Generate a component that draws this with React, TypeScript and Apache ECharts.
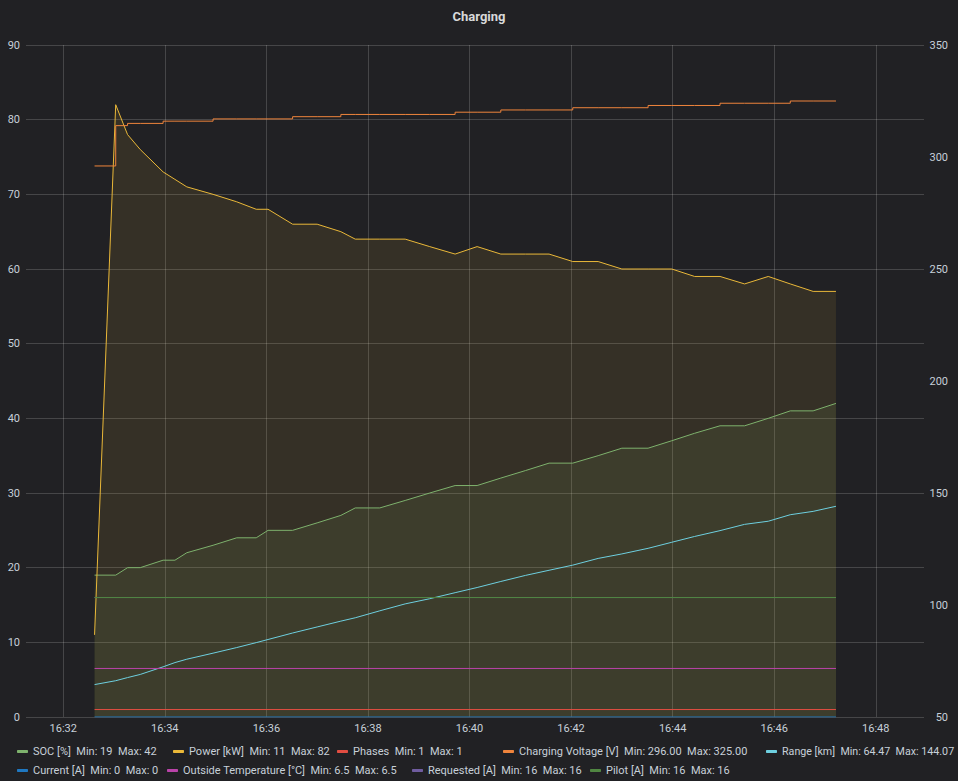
import React, { useEffect, useRef } from "react";
import * as echarts from "echarts";

// Sample times (HH:MM:SS) for the sampled series
const sampleTimes = [
  "16:32:37", "16:33:02", "16:33:16", "16:33:31", "16:33:58", "16:34:12", "16:34:26",
  "16:34:57", "16:35:25", "16:35:48", "16:36:02", "16:36:31", "16:37:00", "16:37:28",
  "16:37:45", "16:38:14", "16:38:44", "16:39:13", "16:39:43", "16:40:09", "16:40:37",
  "16:41:06", "16:41:34", "16:42:02", "16:42:32", "16:43:00", "16:43:31", "16:43:59",
  "16:44:26", "16:44:56", "16:45:25", "16:45:53", "16:46:19", "16:46:46", "16:47:13",
];

const socValues = [
  19, 19, 20, 20, 21, 21, 22, 23, 24, 24, 25, 25, 26, 27, 28, 28, 29, 30, 31, 31, 32,
  33, 34, 34, 35, 36, 36, 37, 38, 39, 39, 40, 41, 41, 42,
];

const powerValues = [
  11, 82, 78, 76, 73, 72, 71, 70, 69, 68, 68, 66, 66, 65, 64, 64, 64, 63, 62, 63, 62,
  62, 62, 61, 61, 60, 60, 60, 59, 59, 58, 59, 58, 57, 57,
];

const voltageValues = [
  296, 314, 315, 315, 316, 316, 316, 317, 317, 317, 317, 318, 318, 319, 319, 319, 319,
  319, 320, 320, 321, 321, 321, 322, 322, 322, 323, 323, 323, 324, 324, 324, 325, 325, 325,
];

const rangeValues = [
  64.47, 66.2, 67.6, 69.0, 72.4, 74.3, 75.8, 78.5, 81.0, 83.2, 84.6, 87.5, 90.2, 92.8,
  94.3, 97.4, 100.5, 102.8, 105.5, 107.8, 110.5, 113.2, 115.5, 117.8, 120.8, 122.8,
  125.3, 128.0, 130.6, 133.2, 136.0, 137.4, 140.3, 141.8, 144.07,
];

// Constant series: first and last sample
const flatTimes = ["16:32:37", "16:47:13"];
const phasesValues = [1, 1];
const currentValues = [0, 0];
const outsideTempValues = [6.5, 6.5];
const requestedValues = [16, 16];
const pilotValues = [16, 16];

// Axis settings
const xMinTime = "16:31:16";
const xMaxTime = "16:48:57";
const xTickLabels = ["16:32", "16:34", "16:36", "16:38", "16:40", "16:42", "16:44", "16:46", "16:48"];
const leftTicks = { min: 0, max: 90, interval: 10 };
const rightTicks = { min: 50, max: 350, interval: 50 };

function ts(hms: string): number {
  const parts = hms.split(":").map(Number);
  return new Date(2021, 0, 1, parts[0], parts[1], parts[2] || 0).getTime();
}

function pairs(times: string[], values: number[]) {
  return times.map((t, i) => [ts(t), values[i]]);
}

function hhmm(v: number) {
  const d = new Date(v);
  const p = (n: number) => (n < 10 ? "0" + n : String(n));
  return p(d.getHours()) + ":" + p(d.getMinutes());
}

const FONT = "Roboto, 'Helvetica Neue', Arial, sans-serif";
const TEXT = "#c7d0d9";
const GRID = "rgba(255,255,255,0.17)";

type SeriesDef = {
  name: string;
  color: string;
  times: string[];
  values: number[];
  axis: number;
  fill?: boolean;
  step?: boolean;
  decimals?: number;
  legendLeft: number;
  legendRow: number;
  legendFont?: number;
};

const seriesDefs: SeriesDef[] = [
  { name: "SOC [%]", color: "#7eb26d", times: sampleTimes, values: socValues, axis: 0, fill: true, legendLeft: 17, legendRow: 0 },
  { name: "Power [kW]", color: "#eab839", times: sampleTimes, values: powerValues, axis: 0, fill: true, legendLeft: 173, legendRow: 0 },
  { name: "Phases", color: "#e24d42", times: flatTimes, values: phasesValues, axis: 0, legendLeft: 337, legendRow: 0 },
  { name: "Charging Voltage [V]", color: "#ef843c", times: sampleTimes, values: voltageValues, axis: 1, step: true, decimals: 2, legendLeft: 503, legendRow: 0 },
  { name: "Range [km]", color: "#6ed0e0", times: sampleTimes, values: rangeValues, axis: 1, decimals: 2, legendLeft: 766, legendRow: 0, legendFont: 10.7 },
  { name: "Current [A]", color: "#1f78c1", times: flatTimes, values: currentValues, axis: 0, legendLeft: 17, legendRow: 1 },
  { name: "Outside Temperature [°C]", color: "#ba43a9", times: flatTimes, values: outsideTempValues, axis: 0, legendLeft: 167, legendRow: 1 },
  { name: "Requested [A]", color: "#705da0", times: flatTimes, values: requestedValues, axis: 0, legendLeft: 412, legendRow: 1 },
  { name: "Pilot [A]", color: "#508642", times: flatTimes, values: pilotValues, axis: 0, legendLeft: 590, legendRow: 1 },
];

const legendRowTop = [746, 765];

function fmt(v: number, decimals?: number) {
  return decimals !== undefined ? v.toFixed(decimals) : String(v);
}

export default function App() {
  const ref = useRef<HTMLDivElement>(null);

  useEffect(() => {
    if (!ref.current) return;
    const chart = echarts.init(ref.current, undefined, { renderer: "svg" });

    const legends = seriesDefs.map((d) => {
      const mn = Math.min(...d.values);
      const mx = Math.max(...d.values);
      const label = `${d.name}  Min: ${fmt(mn, d.decimals)}  Max: ${fmt(mx, d.decimals)}`;
      return {
        data: [d.name],
        left: d.legendLeft,
        top: legendRowTop[d.legendRow],
        padding: 0,
        itemWidth: 11,
        itemHeight: 3,
        icon: "roundRect",
        selectedMode: false,
        formatter: () => label,
        textStyle: { color: TEXT, fontSize: d.legendFont || 11, fontFamily: FONT },
      };
    });

    const series = seriesDefs.map((d) => ({
      name: d.name,
      type: "line",
      yAxisIndex: d.axis,
      data: pairs(d.times, d.values),
      showSymbol: false,
      symbol: "none",
      step: d.step ? "end" : false,
      color: d.color,
      lineStyle: { color: d.color, width: 1 },
      areaStyle: d.fill ? { color: d.color, opacity: 0.1 } : undefined,
      emphasis: { disabled: true },
      silent: true,
    }));

    const tickValues = xTickLabels.map((t) => ts(t));

    chart.setOption({
      animation: false,
      backgroundColor: "#212124",
      textStyle: { fontFamily: FONT },
      title: {
        text: "Charging",
        left: "center",
        top: 5,
        textStyle: { color: "#d8d9da", fontSize: 13, fontWeight: "bold", fontFamily: FONT },
      },
      legend: legends,
      grid: { left: 26, right: 34, top: 45, bottom: 64, containLabel: false, outerBoundsMode: "none" },
      xAxis: {
        type: "value",
        min: ts(xMinTime),
        max: ts(xMaxTime),
        axisLine: { show: false },
        axisTick: { show: false, customValues: tickValues },
        axisLabel: {
          customValues: tickValues,
          formatter: (v: number) => hhmm(v),
          color: TEXT,
          fontSize: 11,
          fontFamily: FONT,
          margin: 6,
          hideOverlap: false,
        },
        splitLine: { show: true, lineStyle: { color: GRID, width: 1 } },
      },
      yAxis: [
        {
          type: "value",
          position: "left",
          ...leftTicks,
          axisLine: { show: false },
          axisTick: { show: false },
          axisLabel: { color: TEXT, fontSize: 11, fontFamily: FONT, margin: 6 },
          splitLine: { show: true, lineStyle: { color: GRID, width: 1 } },
        },
        {
          type: "value",
          position: "right",
          ...rightTicks,
          axisLine: { show: false },
          axisTick: { show: false },
          axisLabel: { color: TEXT, fontSize: 11, fontFamily: FONT, margin: 24, align: "right" },
          splitLine: { show: false },
        },
      ],
      series,
    });

    return () => chart.dispose();
  }, []);

  return (
    <div
      ref={ref}
      style={{ position: "fixed", left: 0, top: 0, width: 958, height: 781, background: "#212124" }}
    />
  );
}
